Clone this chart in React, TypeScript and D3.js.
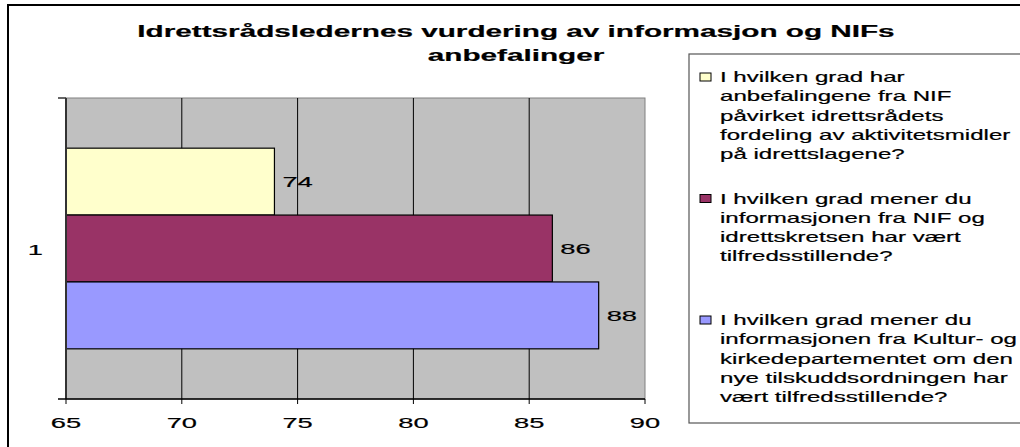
import React from 'react';
import * as d3 from 'd3';

// data
const categories = ['1'];
const seriesValues = [74, 86, 88];
const seriesColors = ['#FFFFCC', '#993366', '#9999FF'];
const seriesLabels = [
    ['I hvilken grad har', 'anbefalingene fra NIF', 'påvirket idrettsrådets', 'fordeling av aktivitetsmidler', 'på idrettslagene?'],
    ['I hvilken grad mener du', 'informasjonen fra NIF og', 'idrettskretsen har vært', 'tilfredsstillende?'],
    ['I hvilken grad mener du', 'informasjonen fra Kultur- og', 'kirkedepartementet om den', 'nye tilskuddsordningen har', 'vært tilfredsstillende?'],
];
const xTicks = [65, 70, 75, 80, 85, 90];
const titleLines = ['Idrettsrådsledernes vurdering av informasjon og NIFs', 'anbefalinger'];

const W = 1020;
const H = 447;
const FONT = '"Liberation Sans", Arial, sans-serif';
const SX = 1.76; // text in the picture is stretched horizontally

const plot = { left: 66, top: 98, right: 645, bottom: 399 };

type TProps = {
    x: number;
    y: number;
    size: number;
    anchor?: 'start' | 'middle' | 'end';
    bold?: boolean;
    sx?: number;
    children: React.ReactNode;
};

const T = ({ x, y, size, anchor = 'start', bold = false, sx = SX, children }: TProps) => (
    <text
        transform={`translate(${x},${y}) scale(${sx},1)`}
        textAnchor={anchor}
        fontSize={size}
        fontWeight={bold ? 'bold' : 'normal'}
        fontFamily={FONT}
        fill="#000"
        stroke="#000"
        strokeWidth={0.2}
    >
        {children}
    </text>
);

const App: React.FC = () => {
    const xScale = d3.scaleLinear().domain([65, 90]).range([plot.left, plot.right]);
    const yCat = d3.scaleBand<string>().domain(categories).range([plot.top, plot.bottom]);
    const seriesIdx = seriesValues.map((_, i) => String(i));
    const yBar = d3.scaleBand<string>().domain(seriesIdx).range([0, yCat.bandwidth()]).paddingOuter(0.75);

    const legendTop = 82;
    const itemStep = 121.5;
    const lineStep = 19.3;

    return (
        <svg width={W} height={H} style={{ position: 'absolute', left: 0, top: 0, display: 'block', background: '#fff' }}>
            {/* outer chart frame */}
            <rect x={8} y={5} width={1040} height={480} fill="#fff" stroke="#000" strokeWidth={2} />

            {/* title */}
            {titleLines.map((l, i) => (
                <T key={i} x={516} y={37 + i * 24} size={16.5} anchor="middle" bold sx={1.8}>
                    {l}
                </T>
            ))}

            {/* plot area */}
            <rect
                x={plot.left}
                y={plot.top}
                width={plot.right - plot.left}
                height={plot.bottom - plot.top}
                fill="#C0C0C0"
                stroke="#808080"
                strokeWidth={1}
            />
            {xTicks.slice(1, -1).map((t) => (
                <line key={t} x1={xScale(t)} x2={xScale(t)} y1={plot.top} y2={plot.bottom} stroke="#000" strokeWidth={1} />
            ))}

            {/* bars */}
            {categories.map((c) =>
                seriesValues.map((v, i) => {
                    const y = (yCat(c) ?? 0) + (yBar(String(i)) ?? 0);
                    return (
                        <g key={c + i}>
                            <rect
                                x={xScale(65)}
                                y={y}
                                width={xScale(v) - xScale(65)}
                                height={yBar.bandwidth()}
                                fill={seriesColors[i]}
                                stroke="#000"
                                strokeWidth={1.2}
                            />
                            <T x={xScale(v) + 8} y={y + yBar.bandwidth() / 2 + 5.5} size={15.5}>
                                {v}
                            </T>
                        </g>
                    );
                })
            )}

            {/* axes */}
            <line x1={plot.left} x2={plot.left} y1={plot.top} y2={plot.bottom} stroke="#333" strokeWidth={2} />
            <line x1={plot.left - 8} x2={plot.left} y1={plot.top} y2={plot.top} stroke="#333" strokeWidth={1.5} />
            <line x1={plot.left - 8} x2={plot.right} y1={plot.bottom} y2={plot.bottom} stroke="#000" strokeWidth={1.5} />
            {xTicks.map((t) => (
                <g key={t}>
                    <line x1={xScale(t)} x2={xScale(t)} y1={plot.bottom} y2={plot.bottom + 5} stroke="#000" strokeWidth={1} />
                    <T x={xScale(t)} y={428} size={15.5} anchor="middle">
                        {t}
                    </T>
                </g>
            ))}
            {categories.map((c) => (
                <T key={c} x={43} y={(yCat(c) ?? 0) + yCat.bandwidth() / 2 + 6} size={15.5} anchor="end">
                    {c}
                </T>
            ))}

            {/* legend */}
            <rect x={689} y={54} width={400} height={369} fill="#fff" stroke="#555" strokeWidth={1.2} />
            {seriesLabels.map((lines, i) => {
                const base = legendTop + i * itemStep;
                return (
                    <g key={i}>
                        <rect x={700} y={base - 9} width={11} height={8} fill={seriesColors[i]} stroke="#000" strokeWidth={1} />
                        {lines.map((l, j) => (
                            <T key={j} x={720} y={base + j * lineStep} size={14} sx={1.72}>
                                {l}
                            </T>
                        ))}
                    </g>
                );
            })}
        </svg>
    );
};

export default App;
